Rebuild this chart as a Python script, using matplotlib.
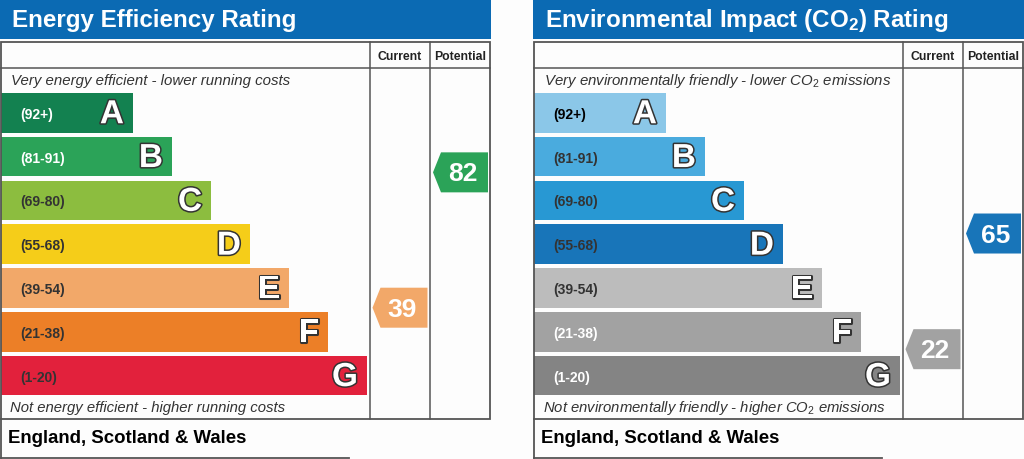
import matplotlib
matplotlib.use("Agg")
import matplotlib.pyplot as plt
import matplotlib.patheffects as pe
from matplotlib.patches import Polygon, Rectangle

plt.rcParams['font.family'] = ['Liberation Sans', 'DejaVu Sans']
plt.rcParams['mathtext.fontset'] = 'custom'
plt.rcParams['mathtext.rm'] = 'Liberation Sans'
plt.rcParams['mathtext.it'] = 'Liberation Sans:italic'
plt.rcParams['mathtext.bf'] = 'Liberation Sans:bold'

# data
bands = ["A", "B", "C", "D", "E", "F", "G"]
range_labels = ["(92+)", "(81-91)", "(69-80)", "(55-68)", "(39-54)", "(21-38)", "(1-20)"]
range_lo = [92, 81, 69, 55, 39, 21, 1]
range_hi = [100, 91, 80, 68, 54, 38, 20]

ee_colors = ["#138150", "#2ba358", "#8cbd3f", "#f5cd19", "#f2a869", "#ec7f27", "#e2213c"]
ee_label_colors = ["white", "white", "#333333", "#333333", "#333333", "#333333", "#333333"]
co2_colors = ["#8bc7e8", "#4aabde", "#2898d3", "#1875b9", "#bcbcbc", "#a2a2a2", "#848484"]
co2_label_colors = ["black", "#333333", "#333333", "#333333", "#333333", "white", "white"]

ee_current, ee_potential = 39, 82
co2_current, co2_potential = 22, 65

titles = ["Energy Efficiency Rating", r"Environmental Impact (CO$_\mathbf{2}$) Rating"]
top_texts = ["Very energy efficient - lower running costs",
             r"Very environmentally friendly - lower CO$_2$ emissions"]
bottom_texts = ["Not energy efficient - higher running costs",
                r"Not environmentally friendly - higher CO$_2$ emissions"]
footer = "England, Scotland & Wales"

# layout (pixels)
W, H = 1024, 460
band_top0 = 94.0
band_pitch = 43.8
band_h = 39.5
line_col = "#555555"
blue = "#0b6ab3"

fig = plt.figure(figsize=(W / 100, H / 100), dpi=100)
fig.patch.set_facecolor("#fdfdfd")
ax = fig.add_axes([0, 0, 1, 1])
ax.set_xlim(0, W)
ax.set_ylim(H, 0)
ax.axis("off")


def score_y(score):
    for i in range(len(bands)):
        if range_lo[i] <= score <= range_hi[i]:
            top = band_top0 + i * band_pitch
            return top + (range_hi[i] - score) / (range_hi[i] - range_lo[i]) * band_h
    return band_top0


def band_of(score):
    return [i for i in range(len(bands)) if range_lo[i] <= score][0]


def arrow(x, score, color):
    yc = score_y(score)
    h = 40
    w = 55
    notch = 8
    pts = [(x, yc), (x + notch, yc - h / 2), (x + w, yc - h / 2),
           (x + w, yc + h / 2), (x + notch, yc + h / 2)]
    ax.add_patch(Polygon(pts, closed=True, facecolor=color, edgecolor="none", zorder=3))
    ax.text(x + notch + (w - notch) / 2 - 2, yc + 1, str(score), color="white",
            fontsize=19, fontweight="bold", ha="center", va="center", zorder=4)


def panel(x0, title, top_text, bottom_text, colors, label_colors, current, potential):
    tw = 489
    cur_x = x0 + 369
    pot_x = x0 + 429
    # header band
    ax.add_patch(Rectangle((x0 - 1, 0), tw + 2, 40, facecolor=blue, edgecolor="none"))
    ax.text(x0 + 11, 20, title, color="white", fontsize=17.4, fontweight="bold",
            ha="left", va="center")
    # table frame
    ax.add_patch(Rectangle((x0, 43), tw, 377, facecolor="none", edgecolor=line_col, lw=1.3, zorder=2))
    ax.plot([x0, x0 + tw], [69, 69], color=line_col, lw=1.1, zorder=2)
    ax.plot([cur_x, cur_x], [43, 420], color=line_col, lw=1.1, zorder=2)
    ax.plot([pot_x, pot_x], [43, 420], color=line_col, lw=1.1, zorder=2)
    ax.text((cur_x + pot_x) / 2, 57, "Current", fontsize=8.8, fontweight="bold",
            ha="center", va="center", color="#222222")
    ax.text((pot_x + x0 + tw) / 2, 57, "Potential", fontsize=8.8, fontweight="bold",
            ha="center", va="center", color="#222222")
    # texts
    ax.text(x0 + 10, 81, top_text, fontsize=10.8, style="italic", color="#333333",
            ha="left", va="center")
    ax.text(x0 + 9, 408, bottom_text, fontsize=10.7, style="italic", color="#333333",
            ha="left", va="center")
    # bars
    centers = [band_top0 + i * band_pitch + band_h / 2 for i in range(len(bands))]
    widths = [132 + 39 * i for i in range(len(bands))]
    ax.barh(centers, widths, height=band_h, left=x0, color=colors, edgecolor="none", zorder=1)
    for yc, wd, b, rl, lc in zip(centers, widths, bands, range_labels, label_colors):
        ax.text(x0 + 19, yc + 1, rl, fontsize=10, fontweight="bold", color=lc,
                ha="left", va="center")
        t = ax.text(x0 + wd - 9, yc + 2, b, fontsize=24, fontweight="bold", color="white",
                    ha="right", va="center", zorder=4)
        t.set_path_effects([pe.Stroke(linewidth=2.2, foreground="#333333"), pe.Normal()])
    # arrows
    arrow(cur_x + 2.5, current, colors[band_of(current)])
    arrow(pot_x + 3, potential, colors[band_of(potential)])
    # footer
    ax.plot([x0, x0], [420, 459], color=line_col, lw=1.3)
    ax.plot([x0, x0 + 348], [459, 459], color=line_col, lw=1.3)
    ax.text(x0 + 7, 439, footer, fontsize=13.4, fontweight="bold", color="black",
            ha="left", va="center")


panel(1, titles[0], top_texts[0], bottom_texts[0], ee_colors, ee_label_colors,
      ee_current, ee_potential)
panel(534, titles[1], top_texts[1], bottom_texts[1], co2_colors, co2_label_colors,
      co2_current, co2_potential)

fig.savefig("out.png", dpi=100, facecolor=fig.get_facecolor())
